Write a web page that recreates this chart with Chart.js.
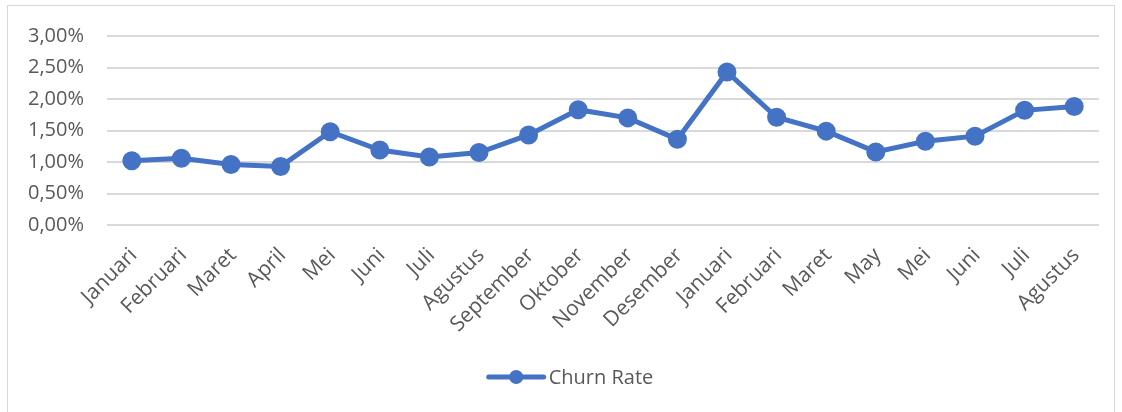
<!DOCTYPE html>
<html>
<head>
<meta charset="utf-8">
<script src="https://cdn.jsdelivr.net/npm/chart.js@4.4.1/dist/chart.umd.min.js"></script>
<style>
    html, body { margin: 0; padding: 0; background: #ffffff; }
    #wrap { position: relative; width: 1122px; height: 412px; overflow: hidden; }
    #frame { position: absolute; left: 7px; top: 5px; width: 1108px; height: 420px; border: 1px solid #d9d9d9; box-sizing: border-box; }
    #wrap canvas { position: absolute; left: 0; top: 0; }
</style>
</head>
<body>
<div id="wrap">
    <div id="frame"></div>
    <canvas id="chart" width="1122" height="412"></canvas>
</div>
<script>
const months = ['Januari', 'Februari', 'Maret', 'April', 'Mei', 'Juni', 'Juli', 'Agustus', 'September', 'Oktober',
    'November', 'Desember', 'Januari', 'Februari', 'Maret', 'May', 'Mei', 'Juni', 'Juli', 'Agustus'];
const churnRate = [1.02, 1.06, 0.96, 0.93, 1.48, 1.19, 1.08, 1.15, 1.43, 1.83,
    1.70, 1.36, 2.43, 1.71, 1.49, 1.16, 1.33, 1.41, 1.82, 1.88];
const seriesName = 'Churn Rate';

const textColor = '#595959';
const lineColor = '#4472C4';

function formatPercent(value) {
    return value.toFixed(2).replace('.', ',') + '%';
}

// legend like excel: short line with a marker in the middle
const bottomLegend = {
    id: 'bottomLegend',
    afterDraw(chart) {
        const ctx = chart.ctx;
        const ds = chart.data.datasets[0];
        ctx.save();
        ctx.font = '20px "Open Sans"';
        const textWidth = ctx.measureText(ds.label).width;
        const lineLen = 55;
        const total = lineLen + 5 + textWidth;
        const x0 = chart.width / 2 - total / 2 + 10;
        const y = 377;
        ctx.strokeStyle = ds.borderColor;
        ctx.lineWidth = 5;
        ctx.lineCap = 'round';
        ctx.beginPath();
        ctx.moveTo(x0, y);
        ctx.lineTo(x0 + lineLen, y);
        ctx.stroke();
        ctx.fillStyle = ds.pointBackgroundColor;
        ctx.beginPath();
        ctx.arc(x0 + lineLen / 2, y, 7, 0, Math.PI * 2);
        ctx.fill();
        ctx.fillStyle = textColor;
        ctx.textBaseline = 'middle';
        ctx.textAlign = 'left';
        ctx.fillText(ds.label, x0 + lineLen + 5, y + 1);
        ctx.restore();
    }
};

const ctx = document.getElementById('chart');
new Chart(ctx, {
    type: 'line',
    data: {
        labels: months,
        datasets: [{
            label: seriesName,
            data: churnRate,
            borderColor: lineColor,
            backgroundColor: lineColor,
            pointBackgroundColor: lineColor,
            pointBorderColor: lineColor,
            borderWidth: 5,
            pointRadius: 7,
            pointHoverRadius: 7,
            tension: 0
        }]
    },
    options: {
        responsive: false,
        animation: false,
        layout: {
            padding: { top: 36, right: 23, bottom: 0, left: 0 }
        },
        scales: {
            x: {
                offset: true,
                grid: { display: false },
                border: { display: false },
                ticks: {
                    color: textColor,
                    font: { family: 'Open Sans', size: 21 },
                    minRotation: 45,
                    maxRotation: 45,
                    autoSkip: false,
                    padding: 10,
                    labelOffset: 2
                },
                afterFit: scale => { scale.height = 187; }
            },
            y: {
                min: 0,
                max: 3,
                grid: { color: '#d9d9d9', lineWidth: 2, drawTicks: false },
                border: { display: false },
                ticks: {
                    stepSize: 0.5,
                    color: textColor,
                    font: { family: 'Open Sans', size: 20 },
                    padding: 23,
                    callback: value => formatPercent(value)
                },
                afterFit: scale => { scale.width = 107; }
            }
        },
        plugins: {
            legend: { display: false },
            tooltip: { enabled: false }
        }
    },
    plugins: [bottomLegend]
});
</script>
</body>
</html>
